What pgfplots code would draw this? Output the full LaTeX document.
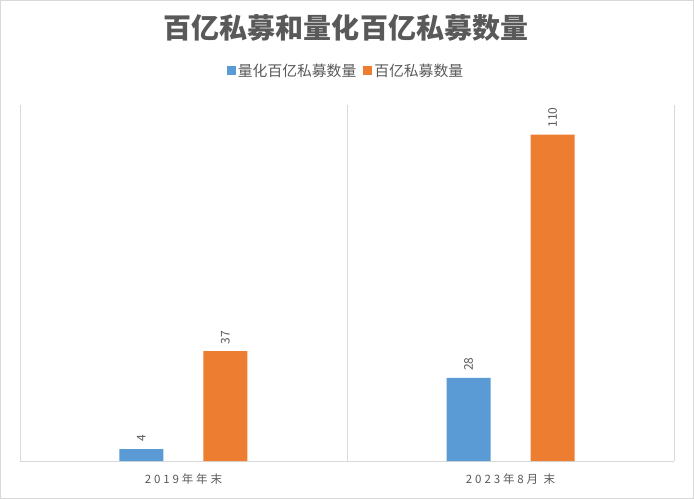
\documentclass[border=0pt]{standalone}
\usepackage{pgfplots}
\pgfplotsset{compat=1.18}
\usepackage{fontspec}
\setmainfont{Noto Sans CJK SC}
\definecolor{cblue}{HTML}{5B9BD5}
\definecolor{corange}{HTML}{ED7D31}
\definecolor{gridc}{HTML}{D9D9D9}
\definecolor{tc}{HTML}{595959}
\begin{document}
\begin{tikzpicture}[x=1bp,y=1bp]
\draw[color=gridc, line width=0.75bp] (0.5,0.5) rectangle (693.5,498.5);
\node[font=\fontsize{28bp}{32bp}\selectfont\bfseries, text=tc] at (346,471) {百亿私募和量化百亿私募数量};
\begin{axis}[
  at={(20bp,38bp)}, anchor=south west,
  scale only axis, width=654bp, height=356bp,
  xmin=0, xmax=2, ymin=0, ymax=120,
  ybar, bar width=44bp,
  axis y line=none,
  axis x line*=bottom,
  x axis line style={draw=gridc, line width=0.75bp, -},
  xtick={0.5,1.5},
  xticklabels={{\addfontfeature{LetterSpace=25}2019年年末},{\addfontfeature{LetterSpace=25}2023年8月 末}},
  xticklabel style={font=\fontsize{11.5bp}{13bp}\selectfont, text=tc, anchor=base, yshift=-22bp},
  major tick length=0pt,
  extra x ticks={0,1,2},
  extra x tick labels={},
  extra x tick style={grid=major, major grid style={draw=gridc, line width=0.75bp}},
  ytick=\empty,
  /pgf/number format/assume math mode=true,
  nodes near coords,
  every node near coord/.append style={rotate=90, anchor=west, inner sep=0pt, xshift=7bp, font=\fontsize{12bp}{14bp}\selectfont, text=tc},
  legend columns=2,
  legend style={draw=none, fill=none, at={(0.4985,1.0955)}, anchor=center,
    font=\fontsize{14.8bp}{17bp}\selectfont, text=tc,
    /tikz/every even column/.append style={column sep=5bp}},
  legend image code/.code={\fill[#1] (0bp,-4.5bp) rectangle (9bp,4.5bp);},
]
\addplot[fill=cblue, draw=none, bar shift=-42bp] coordinates {(0.5,4) (1.5,28)};
\addplot[fill=corange, draw=none, bar shift=42bp] coordinates {(0.5,37) (1.5,110)};
\legend{量化百亿私募数量,百亿私募数量}
\end{axis}
\end{tikzpicture}
\end{document}
